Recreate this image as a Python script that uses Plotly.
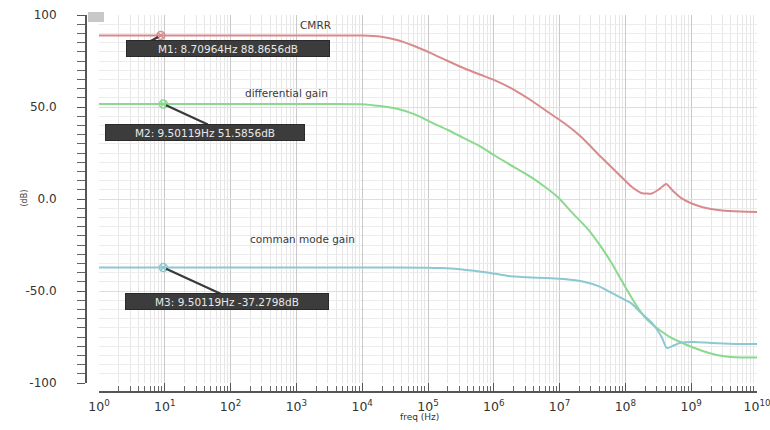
import math
import plotly.graph_objects as go

# ---- data ----
cmrr_freq = [1, 10, 100, 1e3, 1e4, 1.86e4, 3.39e4, 6.31e4, 1.10e5, 2.0e5, 3.47e5, 6.31e5,
             1e6, 2.0e6, 3.63e6, 6.31e6, 1.17e7, 2.14e7, 4.27e7, 8.71e7, 1.26e8, 1.74e8,
             2.51e8, 3.31e8, 4.17e8, 5.25e8, 7.08e8, 1e9, 1.45e9, 2.95e9, 5.62e9, 1e10]
cmrr_db = [88.87, 88.87, 88.87, 88.87, 88.8, 88.3, 86.4, 83.0, 79.3, 75.0, 71.2, 67.5,
           64.7, 59.5, 53.8, 47.8, 41.3, 33.7, 22.8, 12.0, 6.5, 3.3,
           3.0, 5.5, 8.2, 4.5, 0.5, -2.3, -4.3, -6.2, -6.8, -7.0]

diff_freq = [1, 10, 100, 1e3, 1e4, 1.86e4, 3.39e4, 6.31e4, 1.10e5, 2.0e5, 3.47e5, 6.31e5,
             1e6, 2.0e6, 3.63e6, 6.31e6, 9.55e6, 1.51e7, 2.75e7, 4.17e7, 6.17e7, 8.32e7,
             1.12e8, 1.48e8, 1.95e8, 2.63e8, 3.55e8, 5.01e8, 7.08e8, 1.12e9, 1.86e9,
             3.16e9, 4.57e9, 1e10]
diff_db = [51.59, 51.59, 51.59, 51.59, 51.5, 50.5, 49.0, 46.0, 41.8, 37.5, 33.2, 28.5,
           23.9, 17.5, 12.0, 6.0, 0.8, -7.0, -16.8, -25.5, -34.8, -43.0,
           -51.0, -58.0, -64.0, -68.5, -72.0, -75.5, -78.0, -81.0, -83.7,
           -85.5, -86.0, -86.2]

cm_freq = [1, 10, 100, 1e3, 1e4, 1e5, 1.58e5, 2.82e5, 5.01e5, 8.91e5, 1.62e6, 3.16e6,
           6.31e6, 1.17e7, 2.34e7, 3.98e7, 6.17e7, 1e8, 1.26e8, 1.74e8, 2.63e8, 3.55e8,
           4.27e8, 5.50e8, 7.08e8, 1.12e9, 2.0e9, 4.57e9, 1e10]
cm_db = [-37.28, -37.28, -37.28, -37.28, -37.28, -37.3, -37.5, -38.0, -39.0, -40.2, -41.8, -42.5,
         -43.0, -43.5, -45.0, -47.5, -51.0, -55.0, -57.0, -62.0, -68.0, -75.0,
         -81.0, -79.5, -78.0, -77.7, -78.3, -78.8, -78.8]

marker_names = ["M1", "M2", "M3"]
marker_freq = [8.70964, 9.50119, 9.50119]
marker_db = [88.8656, 51.5856, -37.2798]
marker_text = ["M1: 8.70964Hz 88.8656dB", "M2: 9.50119Hz 51.5856dB", "M3: 9.50119Hz -37.2798dB"]

x_tick_vals = [1, 10, 1e2, 1e3, 1e4, 1e5, 1e6, 1e7, 1e8, 1e9, 1e10]
x_tick_text = ["10<sup>%d</sup>" % i for i in range(11)]
y_tick_vals = [-100, -50, 0, 50, 100]
y_tick_text = ["-100", "-50.0", "0.0", "50.0", "100"]

RED = "#d98a8c"
GREEN = "#8ad98e"
CYAN = "#8cc8d2"
FONT = "DejaVu Sans"

W, H = 770, 430
# layout geometry (pixels)
px_left, px_right, px_top, px_bottom = 99, 757, 15, 383
yaxis_line_x = 86
xaxis_line_y = 392

fig = go.Figure()
for fx, fy, col, nm in [(cmrr_freq, cmrr_db, RED, "CMRR"),
                        (diff_freq, diff_db, GREEN, "differential gain"),
                        (cm_freq, cm_db, CYAN, "comman mode gain")]:
    fig.add_trace(go.Scatter(x=fx, y=fy, mode="lines", name=nm,
                             line=dict(color=col, width=2, shape="spline", smoothing=0.6),
                             hoverinfo="skip"))

marker_cols = [RED, GREEN, CYAN]
fig.add_trace(go.Scatter(x=marker_freq, y=marker_db, mode="markers",
                         marker=dict(symbol="circle-x-open", size=8,
                                     color=marker_cols, line=dict(width=1.5, color=marker_cols)),
                         hoverinfo="skip"))

# leader lines (pixel offsets from marker) and label box offsets
lead_ax = [-28, 46, 68]
lead_ay = [15, 21, 31]
box_dx = [67, 42, 64]
box_dy = [-13, -28, -34]
box_w = [200, 196, 200]

annotations = []
for i in range(3):
    lx = math.log10(marker_freq[i])  # annotations on log axes use log units
    annotations.append(dict(x=lx, y=marker_db[i], xref="x", yref="y",
                            axref="pixel", ayref="pixel",
                            ax=lead_ax[i], ay=lead_ay[i], text="", showarrow=True,
                            arrowhead=0, arrowwidth=2.2, arrowcolor="#3a3a3a", standoff=3))
    annotations.append(dict(x=lx, y=marker_db[i], xref="x", yref="y",
                            xshift=box_dx[i], yshift=box_dy[i], text=marker_text[i],
                            showarrow=False, bgcolor="#3c3c3c", bordercolor="#2a2a2a",
                            borderwidth=1, width=box_w[i], height=13, borderpad=1,
                            font=dict(family=FONT, size=10.5, color="#e8e8e8")))

for txt, px, py in [("CMRR", 315, 17), ("differential gain", 243, 85),
                    ("comman mode gain", 248, 239)]:
    annotations.append(dict(x=px / W, y=1 - py / H, xref="paper", yref="paper",
                            text=txt, showarrow=False,
                            font=dict(family=FONT, size=10.5, color="#3a3a3a")))

annotations.append(dict(x=420 / W, y=1 - 424 / H, xref="paper", yref="paper",
                        text="freq (Hz)", showarrow=False,
                        font=dict(family=FONT, size=9, color="#333")))
annotations.append(dict(x=17 / W, y=1 - 198 / H, xref="paper", yref="paper",
                        text="(dB)", showarrow=False, textangle=-90,
                        font=dict(family=FONT, size=8, color="#444")))

shapes = [dict(type="rect", xref="paper", yref="paper",
               x0=88 / W, x1=104 / W, y0=1 - 22 / H, y1=1 - 12 / H,
               fillcolor="#c8c8c8", line=dict(width=0), layer="above")]

fig.update_layout(
    template="none",
    width=W, height=H,
    margin=dict(l=0, r=0, t=0, b=0, autoexpand=False),
    paper_bgcolor="white", plot_bgcolor="white",
    showlegend=False,
    annotations=annotations,
    shapes=shapes,
    xaxis=dict(type="log", range=[0, 10], automargin=False,
               domain=[px_left / W, px_right / W],
               anchor="free", position=(H - xaxis_line_y) / H,
               tickvals=x_tick_vals, ticktext=x_tick_text,
               ticks="inside", ticklen=8, tickcolor="#555", tickwidth=1,
               ticklabelstandoff=3, ticklabeloverflow="allow",
               showline=True, linecolor="#555", linewidth=2,
               showgrid=True, gridcolor="#c9c9c9", gridwidth=1,
               minor=dict(dtick="D1", ticks="inside", ticklen=5, tickcolor="#666",
                          showgrid=True, gridcolor="#e6e6e6", gridwidth=1),
               tickfont=dict(family=FONT, size=12.5, color="#333"),
               zeroline=False),
    yaxis=dict(range=[-100, 100], automargin=False,
               domain=[(H - px_bottom) / H, (H - px_top) / H],
               anchor="free", position=yaxis_line_x / W,
               tickvals=y_tick_vals, ticktext=y_tick_text,
               ticks="outside", ticklen=8, tickcolor="#555", tickwidth=1,
               ticklabelstandoff=18,
               showline=True, linecolor="#555", linewidth=2,
               showgrid=True, gridcolor="#dedede", gridwidth=1,
               minor=dict(dtick=5, ticks="outside", ticklen=8, tickcolor="#666",
                          showgrid=True, gridcolor="#ececec", gridwidth=1),
               tickfont=dict(family=FONT, size=12, color="#333"),
               zeroline=False),
)

fig.write_html("out.html", config={"displayModeBar": False},
               post_script="document.body.style.margin='0';document.body.style.padding='0';")
